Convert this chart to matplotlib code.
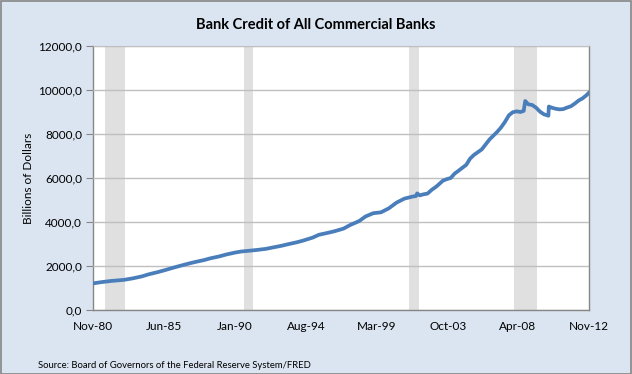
import matplotlib
matplotlib.use('Agg')
import matplotlib.pyplot as plt
import matplotlib.dates as mdates
from matplotlib.ticker import FuncFormatter
from matplotlib.patches import Rectangle
import pandas as pd

plt.rcParams['font.family'] = ['Lato', 'DejaVu Sans']

# values (billions of dollars)
dates = ['1980-11-01', '1981-06-01', '1982-01-01', '1982-11-01', '1983-06-01',
         '1984-01-01', '1984-06-01', '1985-01-01', '1985-06-01', '1986-01-01',
         '1986-06-01', '1987-01-01', '1987-06-01', '1988-01-01', '1988-06-01',
         '1989-01-01', '1989-06-01', '1990-01-01', '1990-06-01', '1991-01-01',
         '1991-06-01', '1992-01-01', '1992-06-01', '1993-01-01', '1993-06-01',
         '1994-01-01', '1994-06-01', '1995-01-01', '1995-06-01', '1996-01-01',
         '1996-06-01', '1997-01-01', '1997-06-01', '1998-01-01', '1998-06-01',
         '1998-12-01', '1999-06-01', '1999-12-01', '2000-06-01', '2000-12-01',
         '2001-06-01', '2001-09-01', '2001-10-01', '2001-12-01', '2002-03-01',
         '2002-06-01', '2002-09-01', '2003-01-01', '2003-06-01', '2003-09-01',
         '2003-12-01', '2004-03-01', '2004-06-01', '2004-12-01', '2005-03-01',
         '2005-06-01', '2005-12-01', '2006-06-01', '2006-12-01', '2007-03-01',
         '2007-06-01', '2007-09-01', '2007-12-01', '2008-03-01', '2008-06-01',
         '2008-08-15', '2008-09-20', '2008-10-15', '2008-12-01', '2009-03-01',
         '2009-06-01', '2009-09-01', '2009-12-01', '2010-03-20', '2010-03-31',
         '2010-06-01', '2010-09-01', '2010-12-01', '2011-03-01', '2011-06-01',
         '2011-09-01', '2011-12-01', '2012-03-01', '2012-06-01', '2012-09-01',
         '2012-11-01']
credit = [1210, 1270, 1320, 1370, 1440,
          1530, 1620, 1720, 1800, 1920,
          2000, 2110, 2180, 2270, 2350,
          2440, 2520, 2610, 2660, 2700,
          2730, 2780, 2840, 2920, 2990,
          3080, 3160, 3290, 3420, 3510,
          3580, 3700, 3860, 4040, 4250,
          4400, 4440, 4620, 4880, 5060,
          5150, 5180, 5300, 5210, 5260,
          5290, 5450, 5620, 5880, 5950,
          6000, 6200, 6330, 6600, 6880,
          7050, 7300, 7750, 8100, 8300,
          8550, 8850, 8990, 9030, 9000,
          9050, 9500, 9450, 9350, 9320,
          9200, 9020, 8900, 8830, 9250,
          9200, 9150, 9120, 9130, 9200,
          9260, 9380, 9520, 9620, 9760,
          9880]

recessions = [('1981-08-01', '1982-12-01'),
              ('1990-08-01', '1991-03-01'),
              ('2001-04-01', '2001-11-15'),
              ('2008-01-01', '2009-07-01')]

tick_dates = ['1980-11-01', '1985-06-01', '1990-01-01', '1994-08-01',
              '1999-03-01', '2003-10-01', '2008-04-01', '2012-11-01']
tick_labels = ['Nov-80', 'Jun-85', 'Jan-90', 'Aug-94',
               'Mar-99', 'Oct-03', 'Apr-08', 'Nov-12']

bg = '#dbe5f1'
axis_c = '#868686'
grid_c = '#bfbfbf'
line_c = '#4a7ebb'

fig = plt.figure(figsize=(6.32, 3.74), dpi=100, facecolor=bg)
fig.patches.append(Rectangle((0.0008, 0.001), 0.9984, 0.997, transform=fig.transFigure,
                             fill=False, edgecolor=axis_c, linewidth=1.2))
ax = fig.add_axes([93 / 632, 64 / 374, 496 / 632, 264 / 374])
ax.set_facecolor('white')

for s, e in recessions:
    ax.axvspan(pd.Timestamp(s), pd.Timestamp(e), color='#e0e0e0', lw=0, zorder=1)

ax.plot(pd.to_datetime(dates), credit, color=line_c, lw=2.7, zorder=3,
        solid_joinstyle='round')

ax.set_xlim(pd.Timestamp('1980-11-01'), pd.Timestamp('2012-11-01'))
ax.set_ylim(0, 12000)
ax.set_yticks(range(0, 12001, 2000))
ax.yaxis.set_major_formatter(FuncFormatter(lambda v, p: '{:.1f}'.format(v).replace('.', ',')))
ax.set_xticks(pd.to_datetime(tick_dates))
ax.set_xticklabels(tick_labels)

ax.grid(axis='y', color=grid_c, lw=1, zorder=2)
ax.set_axisbelow(False)
for side in ('left', 'bottom', 'right'):
    ax.spines[side].set_color(axis_c)
    ax.spines[side].set_linewidth(1)
ax.spines['top'].set_color(grid_c)
ax.tick_params(axis='y', length=5, color=axis_c, labelsize=8.5, pad=3)
ax.tick_params(axis='x', length=0, labelsize=8.5, pad=8)

ax.set_ylabel('Billions of Dollars', fontsize=8.5, labelpad=3)

fig.text(0.5, 1 - 25 / 374, 'Bank Credit of All Commercial Banks', ha='center',
         va='center', fontsize=10.5, fontweight='bold')
fig.text(38 / 632, 1 - 365 / 374, 'Source: Board of Governors of the Federal Reserve System/FRED',
         ha='left', va='center', fontsize=6.8)

fig.savefig('out.png', dpi=100, facecolor=bg)
